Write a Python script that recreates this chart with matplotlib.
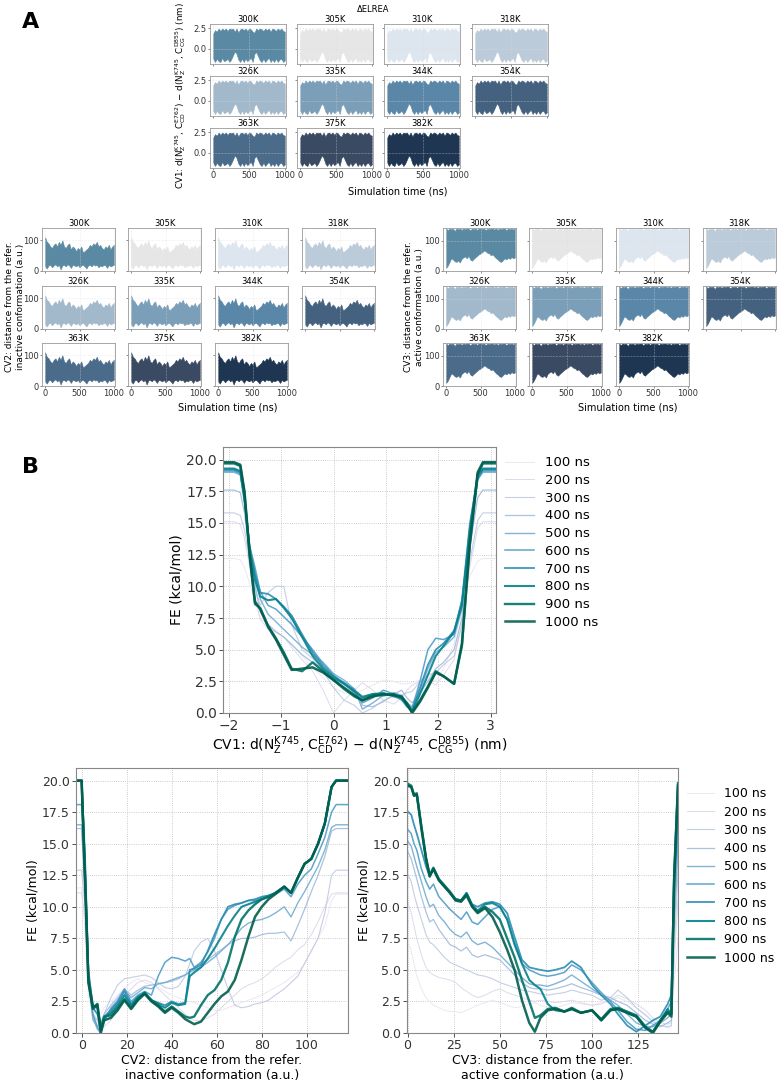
import matplotlib
matplotlib.use("Agg")
import matplotlib.pyplot as plt
import numpy as np

W, H = 781, 1082

temps = ["300K", "305K", "310K", "318K", "326K", "335K", "344K", "354K", "363K", "375K", "382K"]
temp_colors = ["#5a8aa3", "#e6e6e6", "#dde5ee", "#bccbd9", "#a2b8cb", "#7b9fb8",
               "#5a87a8", "#44627f", "#4b6b8a", "#3a4a62", "#1f3652"]

# time series envelopes (upper / lower edge of the noisy traces), every 25 ns
ts = list(range(0, 1001, 25))
cv1_hi = [1.9, 2.3, 2.1, 2.5, 2.2, 2.5, 2.3, 2.5, 2.2, 2.5, 2.4, 2.5, 2.1, 2.5, 2.0, 2.4, 2.5, 2.3, 2.5, 2.2,
          2.5, 2.4, 2.1, 2.0, 2.5, 2.3, 2.5, 2.4, 2.2, 2.5, 2.3, 2.5, 2.1, 2.5, 2.4, 2.2, 2.5, 2.3, 2.5, 2.2, 2.1]
cv1_lo = [-1.2, -1.6, -1.2, -1.5, -1.6, -1.1, -1.5, -1.4, -1.2, -1.6, -1.3, -0.8, -0.3, -0.6, -1.3, -1.6, -1.2,
          -1.6, -1.2, -1.5, -1.3, -1.1, -1.6, -0.6, -0.4, -0.9, -1.4, -1.6, -1.2, -1.6, -1.3, -1.1, -1.6, -1.3,
          -1.6, -1.2, -1.6, -1.3, -1.2, -1.6, -1.4]
cv2_hi = [110, 95, 90, 80, 75, 85, 90, 80, 95, 85, 100, 80, 75, 85, 90, 70, 80, 75, 65, 75, 70, 80, 60, 65,
          70, 75, 85, 80, 90, 85, 95, 80, 85, 75, 70, 80, 75, 85, 70, 80, 85]
cv2_lo = [15, 8, 18, 20, 12, 18, 22, 15, 20, 5, 18, 20, 15, 22, 18, 10, 20, 18, 15, 20, 12, 18, 20, 15, 8,
          18, 20, 15, 22, 18, 20, 12, 18, 15, 20, 18, 10, 20, 15, 18, 20]
cv3_hi = [140, 135, 140, 138, 140, 132, 140, 138, 140, 136, 140, 138, 140, 140, 134, 140, 138, 140, 136, 140,
          140, 138, 140, 135, 140, 138, 140, 140, 137, 140, 136, 140, 138, 140, 140, 135, 140, 138, 140, 137, 140]
cv3_lo = [10, 18, 30, 42, 38, 32, 30, 35, 28, 40, 45, 48, 42, 50, 38, 34, 40, 45, 50, 55, 58, 62, 68, 65, 60,
          58, 52, 55, 48, 42, 38, 32, 30, 36, 42, 38, 44, 40, 46, 42, 45]

# free energy profiles
fe_labels = ["100 ns", "200 ns", "300 ns", "400 ns", "500 ns", "600 ns", "700 ns", "800 ns", "900 ns", "1000 ns"]

x_cv1 = [-2.11, -1.9, -1.78, -1.7, -1.6, -1.5, -1.4, -1.25, -1.1, -0.95, -0.8, -0.6, -0.4, -0.2, 0.0, 0.2,
         0.4, 0.55, 0.75, 0.95, 1.15, 1.3, 1.4, 1.5, 1.65, 1.8, 1.95, 2.1, 2.3, 2.45, 2.6, 2.75, 2.85, 3.1]
fe_cv1 = [
    [12.2, 12.2, 12.1, 11.5, 10.2, 8.8, 7.5, 7.0, 6.5, 6.0, 5.5, 4.5, 3.6, 2.8, 2.0, 1.6, 1.5, 1.8, 2.2, 2.6,
     2.5, 2.3, 2.3, 2.4, 2.6, 2.8, 2.5, 3.5, 5.5, 8.5, 10.8, 12.0, 12.2, 12.2],
    [15.1, 15.1, 14.9, 13.8, 11.5, 9.2, 7.4, 6.6, 6.4, 6.0, 5.2, 4.2, 3.3, 1.8, 0.0, 1.0, 1.8, 2.4, 1.8, 1.0,
     0.7, 1.2, 1.8, 2.2, 2.5, 2.6, 2.2, 3.0, 4.2, 7.0, 11.5, 14.6, 15.1, 15.1],
    [15.8, 15.8, 15.6, 14.5, 12.0, 10.0, 8.5, 9.5, 10.0, 10.0, 7.0, 5.0, 4.3, 3.3, 2.0, 1.0, 0.6, 0.0, 0.4, 1.0,
     1.3, 1.4, 1.6, 1.7, 2.5, 3.0, 3.2, 3.8, 4.5, 7.0, 12.0, 15.2, 15.8, 15.8],
    [17.6, 17.6, 17.4, 15.8, 12.5, 10.0, 8.0, 7.0, 6.4, 6.0, 5.4, 4.6, 4.0, 3.4, 2.7, 2.3, 1.8, 0.6, 0.5, 0.9,
     1.5, 1.8, 1.2, 0.8, 1.6, 2.5, 3.5, 4.0, 5.0, 7.5, 13.0, 17.0, 17.6, 17.6],
    [19.0, 19.0, 18.8, 16.5, 13.0, 11.0, 9.0, 7.8, 7.2, 6.6, 6.0, 5.2, 4.6, 4.0, 3.1, 2.6, 1.9, 0.3, 0.8, 1.4,
     1.6, 1.4, 0.8, 0.5, 1.8, 3.5, 4.8, 5.2, 6.0, 8.2, 14.0, 18.4, 19.0, 19.0],
    [19.1, 19.1, 18.9, 16.8, 13.2, 11.5, 9.6, 8.5, 8.2, 7.6, 7.0, 6.0, 5.0, 3.9, 3.0, 2.3, 1.6, 0.8, 1.2, 1.8,
     1.5, 1.0, 0.6, 0.4, 2.5, 5.0, 5.9, 5.8, 6.2, 9.0, 15.0, 18.6, 19.1, 19.1],
    [19.2, 19.2, 19.0, 17.0, 13.0, 11.0, 9.5, 9.4, 9.0, 8.4, 7.7, 6.2, 4.8, 3.7, 2.9, 2.4, 1.8, 1.3, 1.5, 1.6,
     1.3, 1.1, 0.5, 0.2, 2.0, 3.8, 5.0, 5.5, 6.5, 8.8, 14.0, 18.5, 19.2, 19.2],
    [19.3, 19.3, 19.1, 17.0, 12.8, 10.5, 9.2, 8.9, 9.0, 8.3, 7.5, 6.0, 4.5, 3.5, 2.8, 2.3, 1.7, 1.2, 1.5, 1.5,
     1.4, 1.2, 0.6, 0.1, 1.5, 3.0, 4.5, 5.3, 6.4, 8.5, 14.5, 18.8, 19.3, 19.3],
    [19.7, 19.7, 19.5, 17.3, 12.3, 8.6, 8.3, 6.9, 5.9, 4.8, 3.5, 3.3, 4.0, 3.3, 2.6, 1.9, 1.3, 1.0, 1.4, 1.4,
     1.5, 1.2, 0.8, 0.1, 1.0, 2.1, 3.3, 2.9, 2.3, 5.3, 13.2, 18.8, 19.7, 19.7],
    [19.8, 19.8, 19.6, 17.5, 12.5, 8.8, 8.2, 6.8, 5.8, 4.6, 3.4, 3.5, 3.6, 3.2, 2.6, 2.0, 1.4, 1.0, 1.3, 1.5,
     1.4, 1.3, 0.7, 0.0, 0.9, 2.0, 3.2, 2.9, 2.3, 5.5, 13.5, 19.0, 19.8, 19.8],
]

x_cv2 = [-2.5, 0, 1.5, 3, 5, 7, 8.5, 10, 13, 16, 19, 22, 25, 28, 31, 34, 37, 40, 43, 46, 48, 50, 53, 56,
         59, 62, 65, 68, 71, 74, 77, 80, 83, 86, 90, 93, 96, 99, 102, 105, 108, 111, 113, 118.3]
fe_cv2 = [
    [11.5, 11.5, 8.0, 3.0, 1.5, 1.0, 1.5, 2.0, 2.5, 3.0, 3.5, 4.0, 4.3, 4.0, 3.8, 3.6, 3.3, 3.0, 2.8, 2.6, 2.5,
     2.4, 2.2, 2.0, 1.8, 1.8, 2.0, 2.2, 2.4, 2.6, 2.8, 3.0, 3.3, 3.6, 4.0, 4.4, 4.8, 5.5, 6.5, 7.5, 8.5, 10.5,
     11.0, 11.0],
    [11.1, 11.1, 9.0, 4.5, 2.0, 1.5, 1.0, 0.5, 1.0, 2.0, 3.0, 3.5, 4.0, 4.2, 4.0, 3.5, 3.0, 2.5, 2.0, 1.5, 1.2,
     1.0, 1.0, 1.2, 1.5, 2.0, 2.5, 3.0, 3.5, 3.8, 4.0, 4.3, 4.7, 5.2, 5.7, 6.0, 6.6, 7.0, 7.8, 8.8, 10.0, 11.0,
     11.1, 11.1],
    [12.9, 12.9, 10.0, 4.0, 1.5, 1.0, 0.5, 1.5, 2.8, 3.8, 4.3, 4.4, 4.5, 4.6, 4.4, 4.0, 3.6, 3.5, 3.7, 4.5, 5.5,
     6.5, 7.2, 7.5, 6.5, 5.0, 3.5, 2.2, 2.0, 2.1, 2.3, 2.4, 2.6, 3.0, 3.5, 4.0, 4.5, 5.5, 6.5, 7.5, 9.5, 12.5,
     12.9, 12.9],
    [16.2, 16.2, 11.0, 4.0, 1.0, 0.5, 0.8, 1.5, 2.2, 2.8, 3.5, 3.0, 3.4, 3.7, 3.8, 3.9, 4.0, 4.1, 4.3, 4.6, 4.9,
     5.2, 5.5, 5.8, 6.2, 6.6, 7.0, 7.3, 7.5, 7.5, 7.6, 7.8, 7.9, 7.9, 8.0, 7.3, 8.5, 9.8, 11.2, 12.5, 14.0, 16.0,
     16.2, 16.2],
    [16.5, 16.5, 12.0, 4.5, 1.2, 0.3, 0.0, 0.9, 2.0, 2.6, 3.4, 2.8, 3.2, 3.6, 3.5, 3.9, 4.0, 4.2, 4.4, 4.6, 4.8,
     5.0, 5.2, 5.6, 6.0, 6.5, 7.0, 7.6, 8.3, 8.7, 8.9, 9.0, 9.2, 9.5, 10.0, 9.2, 10.3, 11.2, 12.2, 13.2, 14.5,
     16.3, 16.5, 16.5],
    [18.1, 18.1, 13.0, 4.8, 1.5, 0.5, 0.0, 1.0, 1.9, 2.5, 3.5, 2.5, 3.0, 3.3, 3.0, 4.5, 5.6, 6.0, 5.9, 5.7, 5.9,
     5.2, 5.6, 6.4, 7.5, 9.0, 9.8, 10.1, 10.3, 10.5, 10.5, 10.7, 10.9, 11.0, 11.4, 10.8, 11.8, 12.5, 13.0, 14.2,
     15.5, 17.5, 18.1, 18.1],
    [20.0, 20.0, 14.0, 5.0, 2.0, 1.5, 0.2, 1.3, 1.8, 2.4, 3.3, 2.3, 2.9, 3.2, 2.6, 2.4, 2.2, 2.5, 2.3, 2.4, 5.0,
     5.1, 5.4, 6.5, 7.8, 9.0, 10.0, 10.2, 10.3, 10.5, 10.6, 10.8, 10.9, 11.1, 11.6, 11.1, 12.3, 13.4, 13.8, 15.0,
     16.6, 19.5, 20.0, 20.0],
    [20.0, 20.0, 13.0, 4.5, 2.2, 2.0, 0.5, 1.2, 1.6, 2.2, 3.0, 2.2, 2.8, 3.1, 2.6, 2.3, 2.0, 2.4, 2.2, 2.3, 4.5,
     4.8, 5.2, 5.9, 6.7, 7.6, 8.5, 9.3, 10.0, 10.2, 10.4, 10.6, 10.8, 11.1, 11.6, 11.1, 12.3, 13.4, 13.8, 15.0,
     16.6, 19.5, 20.0, 20.0],
    [20.0, 20.0, 12.5, 4.2, 1.9, 2.2, 0.3, 1.3, 1.4, 2.0, 2.7, 2.0, 2.7, 3.2, 2.6, 2.2, 1.7, 2.1, 1.7, 1.3, 1.2,
     1.3, 2.2, 3.0, 3.4, 4.2, 5.6, 7.6, 9.0, 9.7, 10.2, 10.6, 10.8, 11.1, 11.6, 11.1, 12.3, 13.4, 13.8, 15.0,
     16.6, 19.5, 20.0, 20.0],
    [20.0, 20.0, 12.0, 4.0, 2.0, 2.3, 0.0, 1.0, 1.2, 1.8, 2.6, 1.9, 2.6, 3.1, 2.5, 2.1, 1.6, 2.0, 1.6, 1.1, 0.9,
     0.7, 0.9, 1.6, 2.3, 2.9, 3.3, 4.2, 5.8, 7.6, 9.2, 10.0, 10.6, 11.0, 11.6, 11.1, 12.3, 13.4, 13.8, 15.0,
     16.6, 19.5, 20.0, 20.0],
]

x_cv3 = [-0.3, 2, 3.5, 5, 7.5, 10, 12, 14, 17, 20, 23, 26, 29, 32, 35, 38, 42, 46, 50, 54, 58, 62, 66, 69,
         72, 76, 80, 85, 89, 94, 100, 105, 110, 114, 119, 124, 129, 133, 137, 141, 143, 144.5, 146.6]
fe_cv3 = [
    [7.5, 6.5, 5.5, 4.5, 3.5, 2.8, 2.5, 2.2, 2.0, 1.8, 1.7, 1.7, 1.6, 1.8, 2.0, 2.2, 2.4, 2.6, 2.4, 2.2, 2.0,
     2.1, 2.3, 2.4, 2.2, 2.0, 2.0, 2.2, 2.4, 2.3, 2.2, 2.4, 2.6, 2.8, 2.5, 2.0, 1.5, 1.0, 0.6, 0.4, 0.5, 4.0, 7.5],
    [10.6, 9.5, 8.5, 7.5, 6.2, 5.2, 4.8, 4.6, 4.4, 4.3, 4.2, 4.0, 3.6, 3.3, 3.0, 2.8, 3.0, 3.3, 3.5, 3.2, 3.0,
     2.8, 2.6, 2.5, 2.6, 2.5, 2.4, 2.5, 2.6, 2.4, 2.2, 2.3, 2.6, 3.0, 2.7, 2.3, 1.8, 1.2, 0.8, 0.7, 0.8, 5.5, 10.6],
    [12.7, 12.0, 11.0, 10.2, 9.0, 7.8, 7.2, 7.0, 6.5, 6.0, 5.6, 5.4, 5.2, 5.0, 4.8, 4.6, 4.5, 4.3, 4.0, 3.8, 3.6,
     3.4, 3.3, 3.2, 3.1, 3.0, 3.1, 3.2, 3.4, 3.2, 3.0, 2.6, 2.8, 3.4, 2.8, 2.0, 1.4, 0.9, 0.6, 0.5, 0.6, 6.5, 12.7],
    [14.5, 13.8, 13.0, 12.2, 10.8, 9.6, 8.8, 9.0, 8.2, 7.6, 7.0, 6.8, 6.5, 6.8, 6.2, 6.0, 6.2, 6.0, 5.8, 5.2, 4.6,
     4.0, 3.6, 3.5, 3.5, 3.4, 3.5, 3.7, 3.9, 3.6, 3.3, 3.0, 2.8, 2.5, 2.2, 1.6, 1.0, 0.7, 0.5, 0.8, 1.0, 8.0, 14.5],
    [15.3, 14.8, 14.0, 13.2, 12.0, 10.8, 10.0, 10.2, 9.3, 8.8, 8.2, 7.8, 7.6, 8.0, 7.3, 7.0, 7.2, 6.8, 6.2, 5.6,
     5.0, 4.4, 3.9, 3.8, 3.8, 3.7, 3.9, 4.2, 4.6, 4.1, 3.5, 3.0, 2.6, 2.2, 1.5, 0.8, 0.5, 0.5, 0.8, 1.2, 1.5, 9.0,
     15.3],
    [16.2, 15.8, 15.0, 14.5, 13.0, 12.0, 11.4, 11.8, 10.8, 10.3, 9.8, 9.4, 9.0, 9.6, 8.8, 8.6, 9.2, 9.8, 10.0, 9.0,
     7.2, 5.5, 5.0, 4.8, 4.6, 4.5, 4.6, 4.8, 5.4, 5.0, 4.0, 3.2, 2.5, 1.8, 0.9, 0.3, 0.2, 0.6, 1.0, 1.9, 2.5, 11.0,
     16.2],
    [17.6, 17.3, 16.5, 15.8, 14.5, 13.2, 12.4, 13.0, 12.1, 11.6, 11.1, 10.6, 10.5, 11.1, 10.2, 10.0, 10.3, 10.4,
     10.2, 9.5, 7.6, 5.8, 5.2, 5.1, 5.0, 4.9, 5.0, 5.2, 5.7, 5.2, 3.8, 3.0, 2.3, 1.5, 0.6, 0.1, 0.6, 1.0, 1.3, 2.3,
     3.0, 12.0, 17.6],
    [19.7, 19.5, 18.8, 18.9, 16.3, 13.8, 12.5, 13.0, 12.1, 11.6, 11.1, 10.6, 10.5, 11.1, 10.1, 9.7, 10.2, 10.3,
     10.0, 9.0, 7.0, 5.5, 4.2, 3.8, 3.5, 2.3, 1.8, 1.7, 1.9, 1.6, 1.8, 1.0, 1.8, 1.9, 1.6, 1.3, 0.4, 0.1, 1.0, 1.9,
     1.5, 12.3, 19.7],
    [19.8, 19.6, 18.9, 19.0, 16.4, 13.9, 12.5, 13.1, 12.2, 11.7, 11.2, 10.6, 10.5, 11.0, 10.1, 9.6, 10.0, 9.6,
     9.0, 7.5, 6.0, 4.2, 2.5, 1.2, 1.4, 1.9, 2.0, 1.7, 2.0, 1.6, 1.8, 1.1, 1.9, 2.0, 1.7, 1.4, 0.5, 0.1, 1.0, 1.7,
     1.5, 12.5, 19.8],
    [19.6, 19.5, 18.8, 18.9, 16.2, 13.8, 12.4, 13.0, 12.1, 11.6, 11.1, 10.5, 10.4, 10.9, 10.0, 9.5, 9.9, 9.2,
     8.0, 6.6, 5.0, 2.6, 0.8, 0.1, 1.2, 1.8, 1.9, 1.7, 1.9, 1.6, 1.8, 1.0, 1.8, 1.9, 1.6, 1.3, 0.4, 0.0, 0.9, 1.6,
     1.3, 12.0, 19.6],
]


def box(l, t, r, b):
    return [l / W, 1 - b / H, (r - l) / W, (b - t) / H]


fig = plt.figure(figsize=(W / 100, H / 100), dpi=100)

fig.text(22 / W, 1 - 22 / H, "A", fontsize=16, fontweight="bold", va="center")
fig.text(22 / W, 1 - 467 / H, "B", fontsize=16, fontweight="bold", va="center")


def ts_block(lefts, width, tops, height, hi, lo, ylim, yticks, yfmt):
    for i, (temp, col) in enumerate(zip(temps, temp_colors)):
        r, c = divmod(i, 4)
        ax = fig.add_axes(box(lefts[c], tops[r], lefts[c] + width, tops[r] + height))
        ax.fill_between(ts, lo, hi, color=col, lw=0.4, edgecolor=col)
        ax.set_xlim(-45, 1015)
        ax.set_ylim(*ylim)
        ax.set_title(temp, fontsize=6, pad=1.5)
        ax.set_yticks(yticks)
        ax.set_xticks([0, 500, 1000])
        ax.grid(color="#dddddd", lw=0.4, ls=":")
        ax.tick_params(labelsize=6, length=1.5, width=0.4, pad=1, colors="#333333")
        for s in ax.spines.values():
            s.set_color("#999999")
            s.set_linewidth(0.6)
        if c == 0:
            ax.set_yticklabels([yfmt.format(v) for v in yticks])
        else:
            ax.set_yticklabels([])
        if r != 2:
            ax.set_xticklabels([])


# panel A, CV1
ts_block([210, 297, 384, 472], 76, [24, 76, 128], 40, cv1_hi, cv1_lo, (-1.85, 3.05), [0.0, 2.5], "{:.1f}")
fig.text(373 / W, 1 - 10 / H, "ΔELREA", fontsize=6, ha="center", va="center")
fig.text(398 / W, 1 - 192 / H, "Simulation time (ns)", fontsize=7, ha="center", va="center")
fig.text(181 / W, 1 - 95 / H,
         r"CV1: d(N$_\mathrm{Z}^\mathrm{K745}$, C$_\mathrm{CD}^\mathrm{E762}$) $-$ "
         r"d(N$_\mathrm{Z}^\mathrm{K745}$, C$_\mathrm{CG}^\mathrm{D855}$) (nm)",
         fontsize=6.3, rotation=90, ha="center", va="center")

# panel A, CV2
ts_block([42, 128, 215, 302], 73, [228, 286, 343], 43, cv2_hi, cv2_lo, (0, 140), [0, 100], "{:d}")
fig.text(228 / W, 1 - 407 / H, "Simulation time (ns)", fontsize=7, ha="center", va="center")
fig.text(15 / W, 1 - 307 / H, "CV2: distance from the refer.\ninactive conformation (a.u.)",
         fontsize=6.5, rotation=90, ha="center", va="center")

# panel A, CV3
ts_block([443, 529, 616, 703], 73, [228, 286, 343], 43, cv3_hi, cv3_lo, (0, 142), [0, 100], "{:d}")
fig.text(628 / W, 1 - 407 / H, "Simulation time (ns)", fontsize=7, ha="center", va="center")
fig.text(414 / W, 1 - 307 / H, "CV3: distance from the refer.\nactive conformation (a.u.)",
         fontsize=6.5, rotation=90, ha="center", va="center")

# panel B
cmap = plt.get_cmap("PuBuGn")
fe_colors = [cmap(v) for v in np.linspace(0.12, 0.92, 10)]
fe_widths = [0.7, 0.7, 0.8, 0.9, 1.0, 1.1, 1.3, 1.5, 1.7, 1.8]


def fe_axes(rect, xs, curves, xlim, xticks, xlabel, fs):
    ax = fig.add_axes(box(*rect))
    for ys, col, lw, lab in zip(curves, fe_colors, fe_widths, fe_labels):
        ax.plot(xs, ys, color=col, lw=lw, label=lab, alpha=0.9)
    ax.set_xlim(*xlim)
    ax.set_ylim(0, 21)
    ax.set_yticks(np.arange(0, 20.1, 2.5))
    ax.set_yticklabels(["{:.1f}".format(v) for v in np.arange(0, 20.1, 2.5)])
    ax.set_xticks(xticks)
    ax.grid(color="#bbbbbb", lw=0.6, ls=":")
    ax.tick_params(labelsize=fs, length=3, width=0.6, pad=1.5, colors="#333333")
    for s in ax.spines.values():
        s.set_color("#888888")
        s.set_linewidth(0.8)
    ax.set_ylabel("FE (kcal/mol)", fontsize=fs, labelpad=2)
    ax.set_xlabel(xlabel, fontsize=fs, labelpad=1)
    return ax


ax1 = fe_axes((223, 447, 496, 713), x_cv1, fe_cv1, (-2.11, 3.1), [-2, -1, 0, 1, 2, 3],
              r"CV1: d(N$_\mathrm{Z}^\mathrm{K745}$, C$_\mathrm{CD}^\mathrm{E762}$) $-$ "
              r"d(N$_\mathrm{Z}^\mathrm{K745}$, C$_\mathrm{CG}^\mathrm{D855}$) (nm)", 10)
ax1.legend(loc="upper left", bbox_to_anchor=(1.0, 1.0), frameon=False, fontsize=9.5,
           handlelength=2.2, labelspacing=0.36, borderaxespad=0.3)

fe_axes((76, 768, 348, 1033), x_cv2, fe_cv2, (-2.5, 118.3), [0, 20, 40, 60, 80, 100],
        "CV2: distance from the refer.\ninactive conformation (a.u.)", 9)
ax3 = fe_axes((407, 768, 678, 1033), x_cv3, fe_cv3, (-0.3, 146.6), [0, 25, 50, 75, 100, 125],
              "CV3: distance from the refer.\nactive conformation (a.u.)", 9)
ax3.legend(loc="upper left", bbox_to_anchor=(1.0, 0.96), frameon=False, fontsize=9,
           handlelength=2.2, labelspacing=0.42, borderaxespad=0.3)

fig.savefig("out.png", dpi=100)
